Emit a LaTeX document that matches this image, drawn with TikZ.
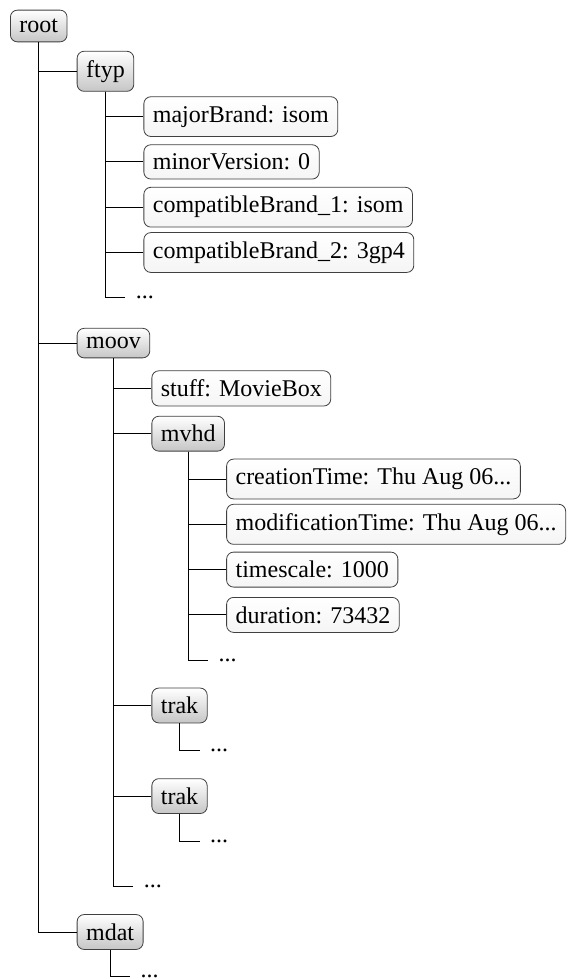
\documentclass[tikz,border=0pt]{standalone}
\usepackage{fontspec}
\setmainfont{Liberation Serif}
\usetikzlibrary{positioning}

\begin{document}
\begin{tikzpicture}[font=\fontsize{24}{28}\selectfont, line width=1pt,
    box/.style = {draw=black!75, line width=0.8pt, rounded corners=7pt, inner xsep=9pt, inner ysep=9pt, top color=white, bottom color=gray!45},
    leaf/.style = {box, top color=white, bottom color=gray!8},
    more/.style = {inner xsep=10pt, inner ysep=0pt}]
    \useasboundingbox (0,0) rectangle (568pt,-980pt);
    \node[box, anchor=west] (1) at (10pt,-26pt) {root};
    \node[box] (2) [below right=45.3pt and 38pt of 1.center, anchor=west] {ftyp};
    \node[leaf] (3) [below right=45.3pt and 38pt of 2.center, anchor=west] {majorBrand: isom};
    \node[leaf] (4) [below=45.3pt of 3.west, anchor=west] {minorVersion: 0};
    \node[leaf] (5) [below=45.3pt of 4.west, anchor=west] {compatibleBrand\_1: isom};
    \node[leaf] (6) [below=45.3pt of 5.west, anchor=west] {compatibleBrand\_2: 3gp4};
    \node[more] (7) [below right=226.5pt and 20pt of 2.center, anchor=west] {...};
    \node[box] (8) [below=271.8pt of 2.west, anchor=west] {moov};
    \node[leaf] (9) [below right=45.3pt and 38pt of 8.center, anchor=west] {stuff: MovieBox};
    \node[box] (10) [below=45.3pt of 9.west, anchor=west] {mvhd};
    \node[leaf] (11) [below right=45.3pt and 38pt of 10.center, anchor=west] {creationTime: Thu Aug 06...};
    \node[leaf] (12) [below=45.3pt of 11.west, anchor=west] {modificationTime: Thu Aug 06...};
    \node[leaf] (13) [below=45.3pt of 12.west, anchor=west] {timescale: 1000};
    \node[leaf] (14) [below=45.3pt of 13.west, anchor=west] {duration: 73432};
    \node[more] (15) [below right=226.5pt and 20pt of 10.center, anchor=west] {...};
    \node[box] (16) [below=271.8pt of 10.west, anchor=west] {trak};
    \node[more] (17) [below right=45.3pt and 20pt of 16.center, anchor=west] {...};
    \node[box] (18) [below=90.6pt of 16.west, anchor=west] {trak};
    \node[more] (19) [below right=45.3pt and 20pt of 18.center, anchor=west] {...};
    \node[more] (20) [below right=543.6pt and 20pt of 8.center, anchor=west] {...};
    \node[box] (21) [below=588.9pt of 8.west, anchor=west] {mdat};
    \node[more] (22) [below right=44pt and 20pt of 21.center, anchor=west] {...};
    \draw (1.south) |- (2.west);
    \draw (1.south) |- (8.west);
    \draw (1.south) |- (21.west);
    \draw (2.south) |- (3.west);
    \draw (2.south) |- (4.west);
    \draw (2.south) |- (5.west);
    \draw (2.south) |- (6.west);
    \draw (2.south) |- (7.west);
    \draw (8.south) |- (9.west);
    \draw (8.south) |- (10.west);
    \draw (8.south) |- (16.west);
    \draw (8.south) |- (18.west);
    \draw (8.south) |- (20.west);
    \draw (10.south) |- (11.west);
    \draw (10.south) |- (12.west);
    \draw (10.south) |- (13.west);
    \draw (10.south) |- (14.west);
    \draw (10.south) |- (15.west);
    \draw (16.south) |- (17.west);
    \draw (18.south) |- (19.west);
    \draw (21.south) |- (22.west);
\end{tikzpicture}
\end{document}
